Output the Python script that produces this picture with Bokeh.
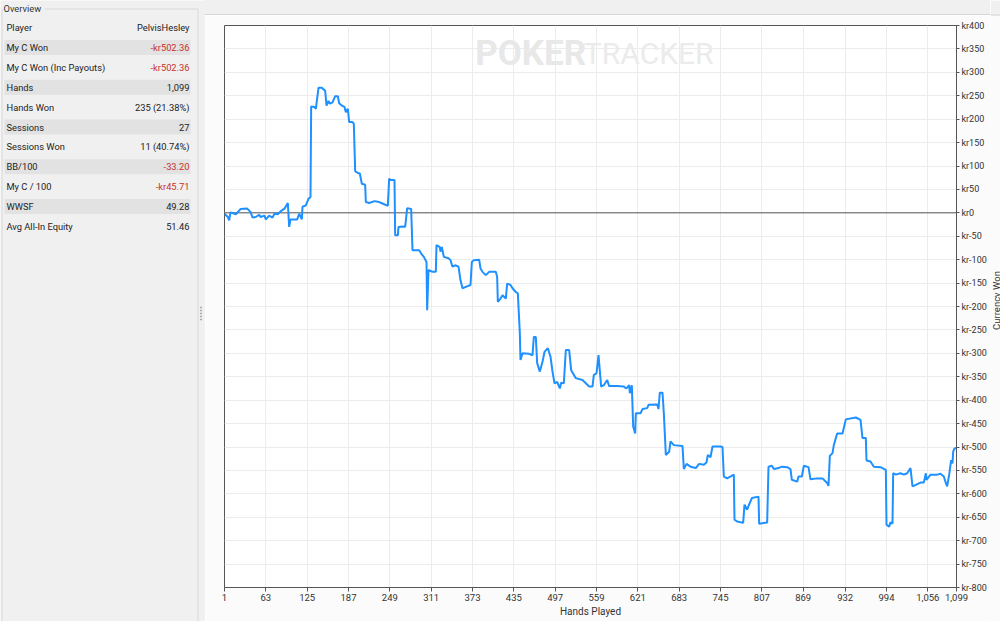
from bokeh.plotting import figure
from bokeh.models import (ColumnDataSource, FixedTicker, NumeralTickFormatter, Span, Label,
                          Range1d, Spacer)
from bokeh.layouts import row, column
from bokeh.core.properties import value
from bokeh.embed import file_html
from bokeh.resources import INLINE
import math

# ---------------- data ----------------
hands = [1, 6, 8, 10, 18, 25, 35, 40, 43, 48, 53, 55, 61, 63, 68, 73, 76, 81, 85, 91, 96, 98, 100, 110,
         113, 117, 118, 123, 127, 130, 131, 136, 138, 142, 147, 150, 152, 154, 157, 159, 163, 167, 171,
         173, 177, 181, 183, 186, 188, 193, 195, 197, 201, 204, 207, 212, 213, 218, 226, 233, 238, 246,
         248, 250, 256, 257, 261, 262, 268, 272, 275, 281, 283, 293, 296, 300, 304, 305, 307, 313, 318,
         319, 324, 325, 327, 330, 337, 340, 343, 347, 352, 355, 358, 363, 370, 372, 375, 383, 385, 388,
         393, 398, 408, 410, 411, 415, 418, 423, 425, 430, 433, 438, 441, 444, 445, 448, 458, 463, 465,
         468, 470, 474, 478, 481, 486, 490, 493, 496, 500, 504, 506, 510, 513, 518, 521, 528, 538, 543,
         548, 553, 555, 559, 562, 566, 570, 575, 578, 590, 600, 604, 608, 609, 612, 614, 617, 618, 625,
         628, 635, 637, 650, 652, 654, 658, 660, 663, 668, 670, 675, 688, 690, 694, 700, 708, 713, 720,
         724, 726, 730, 733, 745, 748, 750, 755, 765, 766, 770, 779, 781, 785, 787, 792, 802, 803, 815,
         817, 822, 825, 832, 837, 845, 850, 852, 860, 862, 867, 870, 877, 880, 890, 898, 905, 907, 909,
         913, 915, 920, 928, 933, 948, 955, 958, 963, 964, 970, 975, 985, 993, 994, 998, 1000, 1003,
         1004, 1008, 1015, 1020, 1025, 1030, 1033, 1038, 1045, 1050, 1053, 1054, 1060, 1070, 1075,
         1080, 1083, 1085, 1088, 1091, 1093, 1094, 1096, 1099]
won = [-2, -9, -16, 1, -3, 8, 9, 2, -10, -9, -4, -9, -6, -14, -6, -10, -2, -3, 3, 9, 21, -30, -14, -14,
       -2, -14, 13, 16, 30, 34, 227, 226, 222, 267, 267, 263, 261, 229, 239, 233, 236, 249, 249,
       234, 229, 226, 215, 222, 194, 194, 190, 89, 85, 84, 62, 60, 23, 21, 25, 23, 20, 15,
       73, 70, 70, -48, -48, -30, -29, -30, 10, 8, -80, -80, -87, -94, -105, -208, -122, -126, -126,
       -69, -73, -83, -73, -94, -97, -101, -115, -112, -115, -144, -161, -158, -154, -105, -101, -100, -119, -126,
       -133, -126, -126, -137, -190, -183, -176, -183, -151, -154, -161, -169, -172, -257, -314, -300, -301, -304, -265,
       -265, -321, -339, -318, -297, -289, -307, -339, -364, -361, -375, -363, -364, -293, -293, -336, -353, -357, -364,
       -371, -371, -346, -343, -304, -371, -368, -357, -370, -370, -371, -375, -368, -385, -368, -456, -471, -428, -428,
       -419, -417, -410, -409, -419, -384, -384, -428, -517, -510, -488, -496, -498, -547, -536, -542, -545, -536, -538,
       -533, -517, -522, -499, -499, -500, -563, -567, -559, -655, -659, -662, -623, -634, -626, -609, -606, -664, -661,
       -542, -540, -547, -545, -542, -543, -547, -570, -574, -563, -563, -540, -543, -569, -567, -567, -577, -583, -519,
       -513, -496, -471, -471, -441, -437, -442, -481, -481, -529, -531, -542, -543, -549, -666, -670, -661, -664,
       -556, -559, -556, -559, -556, -545, -584, -581, -576, -576, -556, -570, -559, -559, -557,
       -563, -577, -584, -559, -528, -535, -510, -503, -502]

x_ticks = [1, 63, 125, 187, 249, 311, 373, 435, 497, 559, 621, 683, 745, 807, 869, 932, 994, 1056, 1099]
y_ticks = list(range(-800, 401, 50))

stat_names = ["Player", "My C Won", "My C Won (Inc Payouts)", "Hands", "Hands Won", "Sessions",
              "Sessions Won", "BB/100", "My C / 100", "WWSF", "Avg All-In Equity"]
stat_values = ["PelvisHesley", "-kr502.36", "-kr502.36", "1,099", "235 (21.38%)", "27",
               "11 (40.74%)", "-33.20", "-kr45.71", "49.28", "51.46"]

x_title = "Hands Played"
y_title = "Currency Won"

FONT = "Roboto"
BG = "#f0f0f0"
PANEL = "#fbfbfb"
TABLE_FS = "9.3px"

# ---------------- left panel (overview table) ----------------
lp = figure(width=205, height=621, x_range=Range1d(0, 205), y_range=Range1d(621, 0),
            output_backend="svg", toolbar_location=None, min_border=0,
            x_axis_location=None, y_axis_location=None,
            background_fill_color=BG, border_fill_color=BG, outline_line_color=None)
lp.grid.visible = False

row_y = [27 + 19.9 * i for i in range(len(stat_names))]
band_y = [y for i, y in enumerate(row_y) if i % 2 == 1]
lp.quad(left=4, right=190, top=[y - 7.5 for y in band_y], bottom=[y + 7.5 for y in band_y],
        fill_color="#e2e2e2", line_color=None)

val_colors = ["#c8302c" if v.startswith("-") else "#222222" for v in stat_values]
src = ColumnDataSource(dict(y=row_y, name=stat_names, val=stat_values, col=val_colors))
lp.text(x=6, y="y", text="name", source=src, text_font=value(FONT), text_font_size=TABLE_FS,
        text_color="#222222", text_baseline="middle", text_align="left")
lp.text(x=189, y="y", text="val", source=src, text_font=value(FONT), text_font_size=TABLE_FS,
        text_color="col", text_baseline="middle", text_align="right")
lp.text(x=[3], y=[8], text=["Overview"], text_font=value(FONT), text_font_size=TABLE_FS,
        text_color="#333333", text_baseline="middle", text_align="left")
lp.segment(x0=[44, 197.5, 1.5], y0=[8.5, 8.5, 8.5], x1=[197.5, 197.5, 1.5], y1=[8.5, 621, 621],
           line_color="#d8d8d8", line_width=1)
lp.segment(x0=[206.5], y0=[15], x1=[206.5], y1=[621], line_color="#d0d0d0", line_width=1)
lp.scatter(x=[200.5] * 5, y=[307, 310, 313, 316, 319], size=1.6, marker="square",
           fill_color="#9a9a9a", line_color=None)

# ---------------- chart ----------------
p = figure(width=785, height=606, x_range=Range1d(1, 1099), y_range=Range1d(-800, 400),
           y_axis_location="right", output_backend="svg", toolbar_location=None,
           min_border_left=19, min_border_right=34, min_border_top=10, min_border_bottom=34,
           background_fill_color="white", border_fill_color=PANEL,
           outline_line_color="#555555")

p.xaxis.ticker = FixedTicker(ticks=x_ticks)
p.xaxis.formatter = NumeralTickFormatter(format="0,0")
p.yaxis.ticker = FixedTicker(ticks=y_ticks)
p.yaxis.major_label_overrides = {v: "kr%d" % v for v in y_ticks}
for ax in (p.xaxis, p.yaxis):
    ax.axis_line_color = "#555555"
    ax.major_tick_line_color = "#555555"
    ax.major_tick_out = 4
    ax.major_tick_in = 0
    ax.minor_tick_line_color = None
    ax.major_label_text_font = FONT
    ax.major_label_text_font_size = "9.5px"
    ax.major_label_text_color = "#333333"
    ax.major_label_standoff = 2
p.yaxis.major_label_text_font_size = "9px"
p.yaxis.major_tick_out = 3
p.xaxis.axis_label = x_title
p.xaxis.axis_label_text_font = FONT
p.xaxis.axis_label_text_font_size = "10px"
p.xaxis.axis_label_text_font_style = "normal"
p.xaxis.axis_label_text_color = "#333333"
p.xaxis.axis_label_standoff = 2
p.xgrid.grid_line_color = "#ececec"
p.ygrid.grid_line_color = "#ececec"

p.add_layout(Label(x=377, y=340, text="POKER", text_font=FONT, text_font_style="bold",
                   text_font_size="35px", text_color="#e8e8e8", text_baseline="middle",
                   level="underlay"))
p.add_layout(Label(x=540, y=340, text="TRACKER", text_font=FONT, text_font_style="normal",
                   text_font_size="30px", text_color="#ebebeb", text_baseline="middle",
                   level="underlay"))

p.add_layout(Span(location=0, dimension="width", line_color="#555555", line_width=1,
                  level="underlay"))

p.line(hands, won, line_color="#1e90ff", line_width=2)

top_strip = Spacer(width=785, height=15,
                   styles={"background-color": BG, "border-bottom": "1px solid #d6d6d6",
                           "box-sizing": "border-box"})

# ---------------- narrow strip holding the vertical axis title ----------------
sp = figure(width=10, height=621, x_range=Range1d(990, 1000), y_range=Range1d(621, 0),
            output_backend="svg", toolbar_location=None, min_border=0,
            x_axis_location=None, y_axis_location=None,
            background_fill_color=PANEL, border_fill_color=PANEL, outline_line_color=None)
sp.grid.visible = False
sp.quad(left=990, right=1000, top=0, bottom=15, fill_color=BG, line_color=None)
sp.segment(x0=[990], y0=[14.5], x1=[1000], y1=[14.5], line_color="#d6d6d6", line_width=1)
sp.text(x=[995.5], y=[300], text=[y_title], angle=math.pi / 2, text_font=value(FONT),
        text_font_size="9.5px", text_color="#333333", text_align="center",
        text_baseline="middle")

layout = row(lp, column(top_strip, p), sp)

open("out.html", "w").write(file_html(layout, INLINE))
